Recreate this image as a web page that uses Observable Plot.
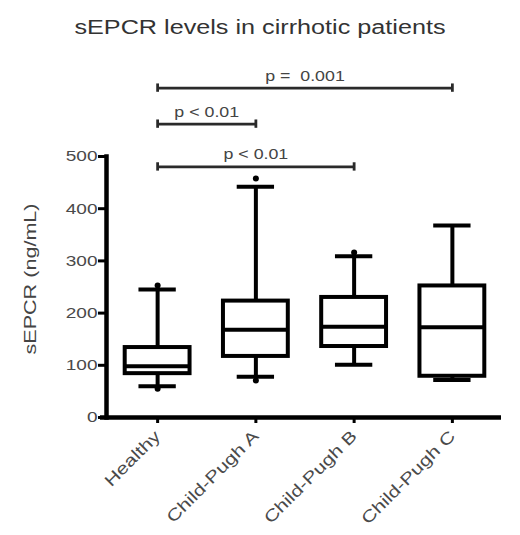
<!DOCTYPE html>
<html><head><meta charset="utf-8">
<script src="https://cdn.jsdelivr.net/npm/d3@7"></script>
<script src="https://cdn.jsdelivr.net/npm/@observablehq/plot@0.6"></script>
<style>
body{margin:0;background:#fff;font-family:"Liberation Sans",Arial,sans-serif;}
#title{height:50px;position:relative;width:520px;}
#title span{position:absolute;left:0;width:520px;text-align:center;top:16px;line-height:23px;font-size:20px;color:#333;transform:scaleX(1.26);transform-origin:260px 50%;}
#chart text{white-space:pre;}
#chart g[aria-label="y-axis tick label"] text, #chart g[aria-label="x-axis tick label"] text{fill:#4a4a4a;}
</style></head><body>
<div id="title"><span>sEPCR levels in cirrhotic patients</span></div>
<div id="chart"></div>
<script>
const categories = ["Healthy", "Child-Pugh A", "Child-Pugh B", "Child-Pugh C"];
const minValues = [60, 78, 101, 72];
const q1Values = [84, 117, 136, 79];
const medianValues = [98, 168, 174, 173];
const q3Values = [134, 223, 230, 252];
const maxValues = [245, 442, 309, 368];
const pointGroups = ["Healthy", "Healthy", "Child-Pugh A", "Child-Pugh A", "Child-Pugh B"];
const pointValues = [253, 55, 458, 71, 316];
const yTicks = [0, 100, 200, 300, 400, 500];
const comparisonLabels = ["p =  0.001", "p < 0.01", "p < 0.01"];
const comparisonFrom = ["Healthy", "Healthy", "Healthy"];
const comparisonTo = ["Child-Pugh C", "Child-Pugh A", "Child-Pugh B"];
const comparisonLevels = [631, 562, 480];
const yLabel = "sEPCR (ng/mL)";

const idx = c => categories.indexOf(c);
const boxes = categories.map((c, i) => ({i, min: minValues[i], q1: q1Values[i], med: medianValues[i], q3: q3Values[i], max: maxValues[i]}));
const points = pointGroups.map((c, k) => ({i: idx(c), v: pointValues[k]}));
const comps = comparisonLabels.map((l, k) => ({label: l, a: idx(comparisonFrom[k]), b: idx(comparisonTo[k]), y: comparisonLevels[k]}));
const BOX = 0.33, CAP = 0.19, END = 8, SW = 4;

const svg = Plot.plot({
  width: 520, height: 485,
  marginLeft: 106, marginRight: 19, marginTop: 106, marginBottom: 118,
  style: {fontFamily: '"Liberation Sans", Arial, sans-serif', background: "white", overflow: "visible"},
  x: {domain: [-0.5, 3.5], range: [108, 501]},
  y: {domain: [0, 500]},
  marks: [
    Plot.ruleX(boxes, {x: "i", y1: "q3", y2: "max", strokeWidth: SW}),
    Plot.ruleX(boxes, {x: "i", y1: "min", y2: "q1", strokeWidth: SW}),
    Plot.ruleY(boxes, {y: "max", x1: d => d.i - CAP, x2: d => d.i + CAP, strokeWidth: SW}),
    Plot.ruleY(boxes, {y: "min", x1: d => d.i - CAP, x2: d => d.i + CAP, strokeWidth: SW}),
    Plot.rect(boxes, {x1: d => d.i - BOX, x2: d => d.i + BOX, y1: "q1", y2: "q3", fill: "white", stroke: "black", strokeWidth: SW}),
    Plot.ruleY(boxes, {y: "med", x1: d => d.i - BOX, x2: d => d.i + BOX, strokeWidth: SW}),
    Plot.dot(points, {x: "i", y: "v", r: 3, fill: "black"}),
    Plot.ruleY(comps, {y: "y", x1: "a", x2: "b", stroke: "#2a2a2a", strokeWidth: 2.8}),
    Plot.ruleX(comps, {x: "a", y1: d => d.y - END, y2: d => d.y + END, stroke: "#2a2a2a", strokeWidth: 2.8}),
    Plot.ruleX(comps, {x: "b", y1: d => d.y - END, y2: d => d.y + END, stroke: "#2a2a2a", strokeWidth: 2.8}),
    Plot.text(comps, {x: d => (d.a + d.b) / 2, y: "y", text: "label", dy: -12, fontSize: 14, fill: "#444"}),
    Plot.axisY({ticks: yTicks, tickSize: 8, tickPadding: 1, strokeWidth: 3, fontSize: 15, label: null}),
    Plot.axisX({ticks: [0, 1, 2, 3], tickFormat: i => categories[i], tickRotate: -45, tickSize: 6, tickPadding: 10, strokeWidth: 3, fontSize: 16.5, label: null}),
    Plot.frame({anchor: "left", strokeWidth: 4.5}),
    Plot.ruleY([0], {insetLeft: -6, strokeWidth: 4.5}),
    Plot.text([yLabel], {frameAnchor: "left", textAnchor: "middle", rotate: -90, dx: -76, dy: -8, fontSize: 17, fill: "#444"})
  ]
});

const S = 1.27;
svg.querySelectorAll("text").forEach(t => {
  const tr = t.getAttribute("transform") || "";
  t.setAttribute("transform", (tr + ` scale(${S},1)`).trim());
});
document.getElementById("chart").appendChild(svg);
</script>
</body></html>
